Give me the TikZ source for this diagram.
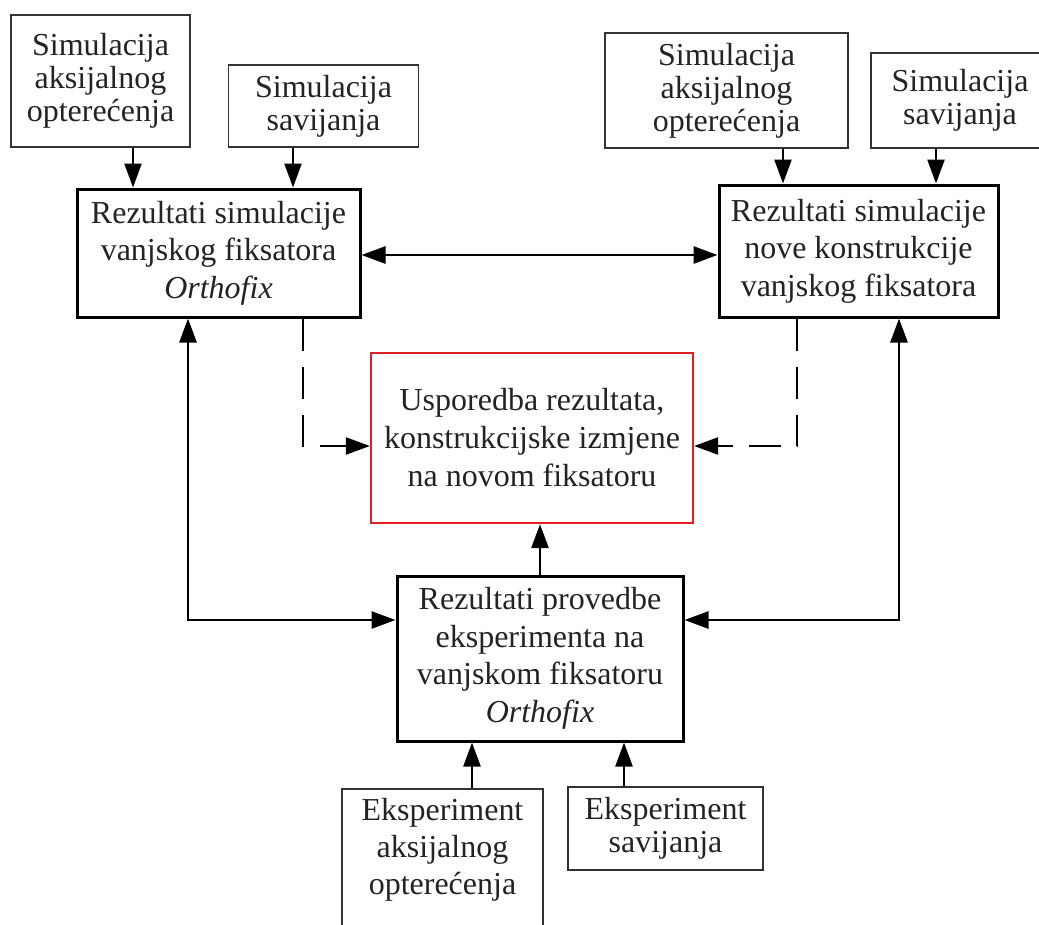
\documentclass[tikz,border=0pt]{standalone}
\usepackage{fontspec}
\setmainfont{Liberation Serif}
\usetikzlibrary{arrows.meta}
\definecolor{boxred}{RGB}{225,30,35}
\definecolor{txt}{RGB}{35,35,35}
\begin{document}
\begin{tikzpicture}[x=1pt,y=-1pt,
  inbox/.style={draw=black!80, line width=1.8pt, inner sep=0pt, align=center, text=txt, font=\fontsize{32}{33}\selectfont},
  mainbox/.style={draw=black, line width=3pt, inner sep=0pt, align=center, text=txt, font=\fontsize{32}{37.5}\selectfont},
  redbox/.style={draw=boxred, line width=2.2pt, inner sep=0pt, align=center, text=txt, font=\fontsize{32}{38}\selectfont},
  plaintext/.style={inner sep=0pt, align=center, text=txt, font=\fontsize{32}{37}\selectfont},
  tip/.tip={Triangle[length=24pt,width=17pt]},
  arr/.style={line width=2.4pt, -tip},
  dbl/.style={line width=2.8pt, tip-tip},
  dsh/.style={line width=2.2pt, dash pattern=on 32pt off 16pt, -tip}]
\useasboundingbox (0,0) rectangle (1039,924);

% input boxes top
\node[inbox, minimum width=179pt, minimum height=132pt] (sa1) at (100.5,81) {Simulacija\\aksijalnog\\optere\'cenja};
\node[inbox, minimum width=190pt, minimum height=82pt] (ss1) at (323.5,106) {Simulacija\\savijanja};
\node[inbox, minimum width=243pt, minimum height=115pt] (sa2) at (726.5,90.5) {Simulacija\\aksijalnog\\optere\'cenja};
\node[inbox, minimum width=178pt, minimum height=95pt] (ss2) at (960,100.5) {Simulacija\\savijanja};

% main boxes
\node[mainbox, minimum width=283pt, minimum height=128pt] (R1) at (218.5,253) {Rezultati simulacije\\vanjskog fiksatora\\\textit{Orthofix}};
\node[mainbox, minimum width=279pt, minimum height=132pt] (R2) at (858.5,251) {Rezultati simulacije\\nove konstrukcije\\vanjskog fiksatora};
\node[redbox, minimum width=322pt, minimum height=170pt] (U) at (532,438) {Usporedba rezultata,\\konstrukcijske izmjene\\na novom fiksatoru};
\node[mainbox, minimum width=286pt, minimum height=165pt] (E) at (540,658.5) {Rezultati provedbe\\eksperimenta na\\vanjskom fiksatoru\\\textit{Orthofix}};

% input boxes bottom
\node[inbox, minimum width=201pt, minimum height=150pt, anchor=north] (ea) at (442.5,788) {};
\node[plaintext] (eat) at (442.5,850) {Eksperiment\\aksijalnog\\optere\'cenja};
\node[inbox, minimum width=195pt, minimum height=83pt] (es) at (665.5,828.5) {Eksperiment\\savijanja};

% helper coordinates
\coordinate (xa) at (133,0);
\coordinate (xb) at (293,0);
\coordinate (xc) at (783,0);
\coordinate (xd) at (936,0);
\coordinate (yh) at (0,255);
\coordinate (xl) at (303,446);
\coordinate (xr) at (797,446);
\coordinate (xu) at (540,0);
\coordinate (ll) at (188,620);
\coordinate (rl) at (899,620);
\coordinate (xe) at (472,0);
\coordinate (xf) at (624,0);

% arrows top
\draw[arr] (sa1.south -| xa) -- (R1.north -| xa);
\draw[arr] (ss1.south -| xb) -- (R1.north -| xb);
\draw[arr] (sa2.south -| xc) -- (R2.north -| xc);
\draw[arr] (ss2.south -| xd) -- (R2.north -| xd);
\draw[dbl] (R1.east |- yh) -- (R2.west |- yh);

% dashed
\draw[dsh] (R1.south -| xl) -- (xl) -- (U.west |- xl);
\draw[dsh] (R2.south -| xr) -- (xr) -- (U.east |- xr);

% loops
\draw[dbl] (R1.south -| ll) -- (ll) -- (E.west |- ll);
\draw[dbl] (R2.south -| rl) -- (rl) -- (E.east |- rl);
\draw[arr] (E.north -| xu) -- (U.south -| xu);

% bottom arrows
\draw[arr] (ea.north -| xe) -- (E.south -| xe);
\draw[arr] (es.north -| xf) -- (E.south -| xf);
\end{tikzpicture}
\end{document}
